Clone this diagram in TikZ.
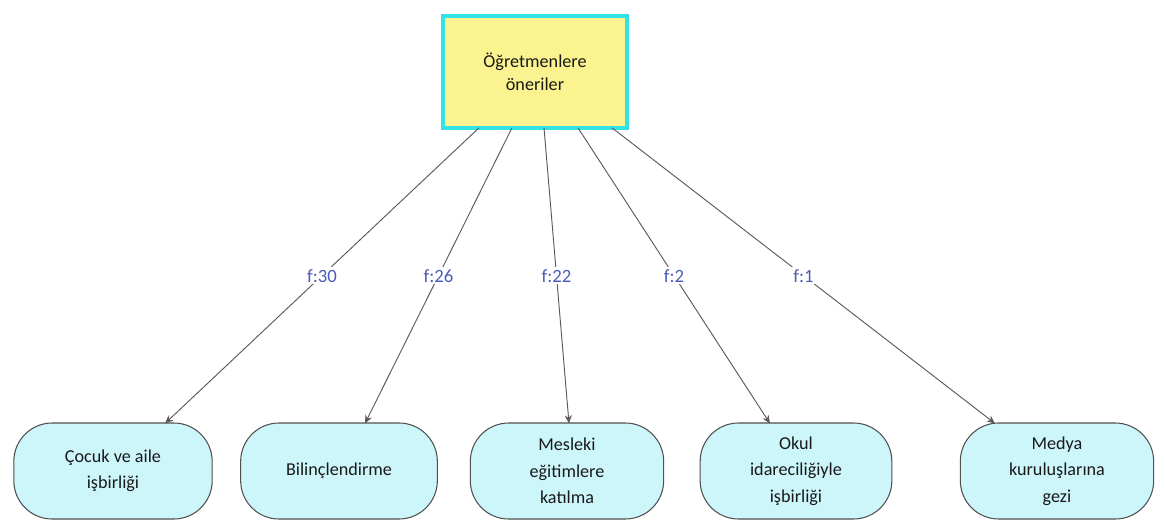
\documentclass[tikz,border=0pt]{standalone}
\usepackage{fontspec}
\setmainfont{Carlito}
\usetikzlibrary{calc,arrows.meta}
\definecolor{topfill}{HTML}{FAF38F}
\definecolor{topborder}{HTML}{33E3E3}
\definecolor{leaffill}{HTML}{CDF6FB}
\definecolor{leafborder}{HTML}{505050}
\definecolor{edgecol}{HTML}{5A5A5A}
\definecolor{labcol}{HTML}{4A5DB5}
\tikzset{
  topbox/.style={draw=topborder, line width=0.12cm, fill=topfill, minimum width=5.5cm, minimum height=3.35cm, align=center, font=\fontsize{15.5}{20}\selectfont, text=black!90},
  leaf/.style={draw=leafborder, line width=0.9pt, fill=leaffill, rounded corners=1.15cm, minimum width=6cm, minimum height=2.88cm, align=center, font=\fontsize{15.5}{22.5}\selectfont, text=black!90},
  conn/.style={draw=edgecol, line width=0.8pt, -{Stealth[length=7pt,width=6pt]}},
  lab/.style={fill=white, text=labcol, font=\fontsize{16}{18}\selectfont, inner sep=2pt}
}
\begin{document}
\begin{tikzpicture}[x=0.03cm,y=-0.03cm]
\useasboundingbox (0,0) rectangle (1165,529);
\node[topbox] (top) at (535,72) {Öğretmenlere\\öneriler};
\node[leaf, minimum width=5.95cm] (b1) at (113,471) {Çocuk ve aile\\işbirliği};
\node[leaf, minimum width=5.9cm] (b2) at (339,471) {Bilinçlendirme};
\node[leaf, minimum width=5.8cm] (b3) at (567,471) {Mesleki\\eğitimlere\\katılma};
\node[leaf, minimum width=5.75cm] (b4) at (796,471) {Okul\\idareciliğiyle\\işbirliği};
\node[leaf, minimum width=5.8cm] (b5) at (1057,471) {Medya\\kuruluşlarına\\gezi};
\draw[conn] ($(top.south)+(-56,-2)$) -- node[lab]{f:30} ($(b1.north)+(52,1)$);
\draw[conn] ($(top.south)+(-23,-2)$) -- node[lab]{f:26} ($(b2.north)+(26,1)$);
\draw[conn] ($(top.south)+(9,-2)$) -- node[lab]{f:22} ($(b3.north)+(2,1)$);
\draw[conn] ($(top.south)+(43,-2)$) -- node[lab]{f:2} ($(b4.north)+(-26,1)$);
\draw[conn] ($(top.south)+(77,-2)$) -- node[lab]{f:1} ($(b5.north)+(-62,1)$);
\end{tikzpicture}
\end{document}
